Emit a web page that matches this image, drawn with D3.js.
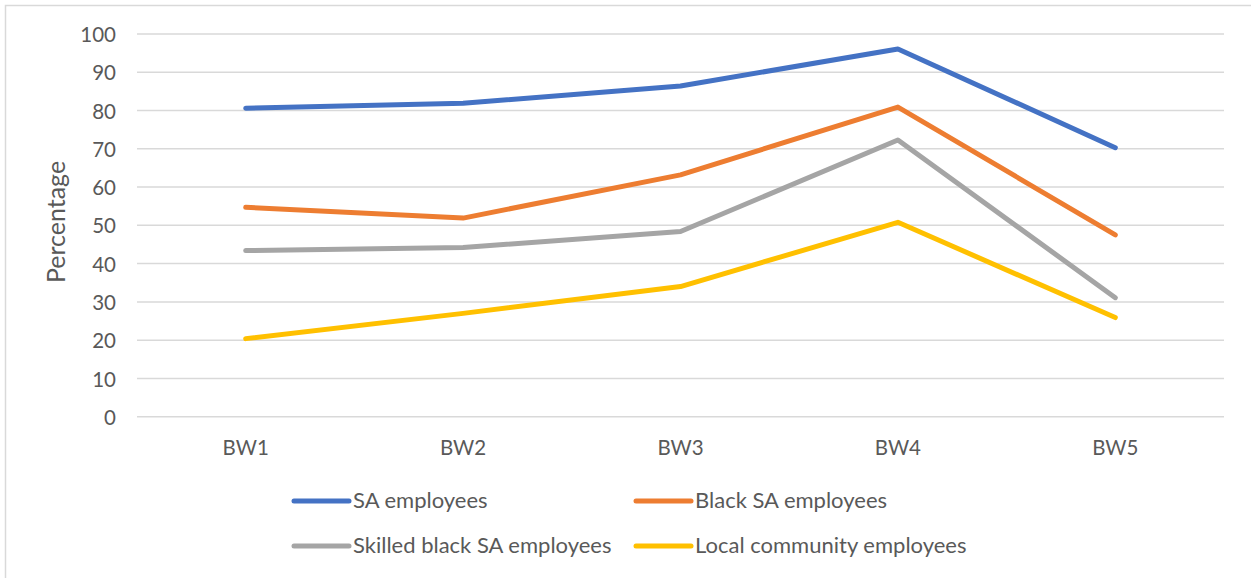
<!DOCTYPE html>
<html>
<head>
<meta charset="utf-8">
<script src="https://cdn.jsdelivr.net/npm/d3@7"></script>
<style>
  html, body { margin: 0; padding: 0; background: #fff; }
  svg { display: block; }
  text { font-family: Lato, "Open Sans", sans-serif; fill: #595959; }
</style>
</head>
<body>
<svg id="chart" width="1251" height="578"></svg>
<script>
// Categories and series values (percent)
const categories = ["BW1", "BW2", "BW3", "BW4", "BW5"];
const saEmployees = [80.6, 81.9, 86.4, 96.1, 70.3];
const blackSaEmployees = [54.7, 51.9, 63.2, 80.9, 47.5];
const skilledBlackSaEmployees = [43.4, 44.2, 48.4, 72.3, 31.1];
const localCommunityEmployees = [20.4, 27.0, 34.0, 50.8, 25.9];
const yTicks = [0, 10, 20, 30, 40, 50, 60, 70, 80, 90, 100];
const seriesNames = ["SA employees", "Black SA employees", "Skilled black SA employees", "Local community employees"];
const seriesColors = ["#4472c4", "#ed7d31", "#a5a5a5", "#ffc000"];

const series = [saEmployees, blackSaEmployees, skilledBlackSaEmployees, localCommunityEmployees]
  .map((values, i) => ({ name: seriesNames[i], color: seriesColors[i], values }));

const svg = d3.select("#chart");
const W = 1251, H = 578;
const FONT = "Lato, 'Open Sans', sans-serif";
const TEXT = "#595959";

// Chart frame (right and bottom edges fall outside the canvas)
svg.append("rect")
  .attr("x", 5.5).attr("y", 5.5)
  .attr("width", W + 20).attr("height", H + 20)
  .attr("fill", "#fff").attr("stroke", "#d9d9d9").attr("stroke-width", 1.5);

const plot = { left: 137, right: 1224, top: 34, bottom: 416.7 };

const x = d3.scaleBand().domain(categories).range([plot.left, plot.right]).padding(0);
const y = d3.scaleLinear().domain([0, 100]).range([plot.bottom, plot.top]);
const cx = c => x(c) + x.bandwidth() / 2;

// Horizontal gridlines
svg.append("g")
  .selectAll("line")
  .data(yTicks)
  .join("line")
  .attr("x1", plot.left).attr("x2", plot.right)
  .attr("y1", d => y(d)).attr("y2", d => y(d))
  .attr("stroke", "#d9d9d9").attr("stroke-width", 1.5);

// Y axis labels
const yAxis = svg.append("g")
  .attr("transform", `translate(116,0)`)
  .call(d3.axisLeft(y).tickValues(yTicks).tickSize(0).tickPadding(0));
yAxis.select(".domain").remove();
yAxis.selectAll("text")
  .attr("font-size", 20.5)
  .attr("font-family", FONT)
  .attr("fill", TEXT)
  .attr("dy", "0.37em");

// X axis labels
const xAxis = svg.append("g")
  .attr("transform", `translate(0,455)`)
  .call(d3.axisBottom(x).tickSize(0).tickPadding(0));
xAxis.select(".domain").remove();
xAxis.selectAll("text")
  .attr("font-size", 20.5)
  .attr("font-family", FONT)
  .attr("fill", TEXT)
  .attr("y", 0)
  .attr("dy", 0);

// Y axis title
svg.append("text")
  .attr("transform", `translate(65,222) rotate(-90)`)
  .attr("text-anchor", "middle")
  .attr("font-size", 25)
  .text("Percentage");

// Series lines
const line = d3.line()
  .x((d, i) => cx(categories[i]))
  .y(d => y(d));

svg.append("g")
  .selectAll("path")
  .data(series)
  .join("path")
  .attr("d", d => line(d.values))
  .attr("fill", "none")
  .attr("stroke", d => d.color)
  .attr("stroke-width", 5)
  .attr("stroke-linecap", "round")
  .attr("stroke-linejoin", "round");

// Legend (2 x 2)
const legendCols = [294, 636];
const legendRows = [501, 546];
const legend = svg.append("g")
  .selectAll("g")
  .data(series)
  .join("g")
  .attr("transform", (d, i) => `translate(${legendCols[i % 2]},${legendRows[Math.floor(i / 2)]})`);

legend.append("line")
  .attr("x1", 0).attr("x2", 55)
  .attr("y1", 0).attr("y2", 0)
  .attr("stroke", d => d.color)
  .attr("stroke-width", 5)
  .attr("stroke-linecap", "round");

legend.append("text")
  .attr("x", 59)
  .attr("y", 0)
  .attr("dy", "0.33em")
  .attr("font-size", 22)
  .text(d => d.name);
</script>
</body>
</html>
